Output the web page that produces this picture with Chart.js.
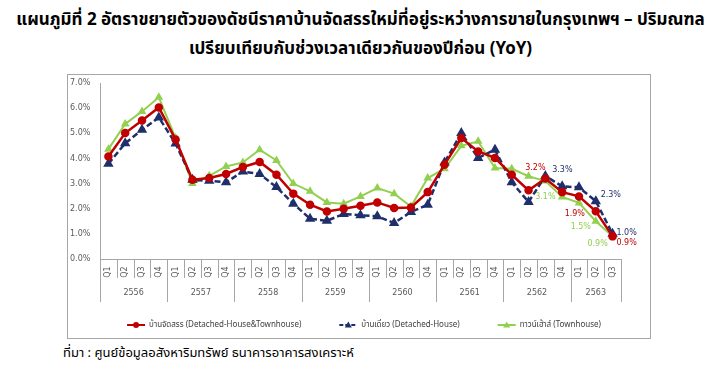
<!DOCTYPE html>
<html>
<head>
<meta charset="utf-8">
<script src="https://cdn.jsdelivr.net/npm/chart.js@4.4.0/dist/chart.umd.min.js"></script>
<style>
  body { margin: 0; background: #fff; width: 721px; height: 370px; overflow: hidden; position: relative; font-family: "Noto Sans Thai", Tahoma, "DejaVu Sans", sans-serif; }
  .title { position: absolute; left: 0; width: 721px; text-align: center; font-weight: bold; font-size: 17px; color: #000; white-space: nowrap; }
  #box { position: absolute; left: 67px; top: 74px; width: 582px; height: 263px; border: 1px solid #a6a6a6; }
  #source { position: absolute; left: 63px; top: 343px; font-size: 13px; color: #000; white-space: nowrap; }
</style>
</head>
<body>
<div class="title" style="top:7px">แผนภูมิที่ 2 อัตราขยายตัวของดัชนีราคาบ้านจัดสรรใหม่ที่อยู่ระหว่างการขายในกรุงเทพฯ – ปริมณฑล</div>
<div class="title" style="top:36px">เปรียบเทียบกับช่วงเวลาเดียวกันของปีก่อน (YoY)</div>
<div id="box"><canvas id="yoyChart" width="582" height="263"></canvas></div>
<div id="source">ที่มา : ศูนย์ข้อมูลอสังหาริมทรัพย์ ธนาคารอาคารสงเคราะห์</div>
<script>
const years = ['2556', '2557', '2558', '2559', '2560', '2561', '2562', '2563'];
const quarters = ['Q1', 'Q2', 'Q3', 'Q4'];
const seriesNames = ['บ้านจัดสรร (Detached-House&Townhouse)', 'บ้านเดี่ยว (Detached-House)', 'ทาวน์เฮ้าส์ (Townhouse)'];

// YoY growth, %
const allHouse = [4.08, 5.01, 5.51, 6.03, 4.75, 3.15, 3.22, 3.38, 3.66, 3.86, 3.35, 2.60,
  2.16, 1.89, 2.00, 2.12, 2.25, 2.03, 2.05, 2.66, 3.75, 4.81, 4.28, 4.02,
  3.35, 2.73, 3.2, 2.66, 2.49, 1.9, 0.9];
const detached = [3.79, 4.6, 5.14, 5.63, 4.59, 3.15, 3.11, 3.05, 3.48, 3.38, 2.86, 2.20,
  1.60, 1.52, 1.79, 1.74, 1.70, 1.43, 1.87, 2.16, 3.84, 5.01, 4.02, 4.35,
  3.05, 2.27, 3.3, 2.89, 2.85, 2.3, 1.0];
const townhouse = [4.37, 5.37, 5.87, 6.43, 4.81, 3.00, 3.31, 3.68, 3.84, 4.35, 3.92, 3.00,
  2.69, 2.25, 2.20, 2.49, 2.82, 2.60, 2.09, 3.22, 3.59, 4.50, 4.68, 3.62,
  3.59, 3.29, 3.1, 2.47, 2.23, 1.5, 0.9];

// which points get a value label: [dataset, index, dx, dy]
const valueLabels = [
  [0, 26, -10, -11], [1, 26, 17, -6], [2, 26, 0, 16],
  [0, 29, -21, 3], [1, 29, 15, -6], [2, 29, -15, 6],
  [0, 30, 14, 7], [1, 30, 14, -1], [2, 30, -15, 8]
];

const labels = [];
years.forEach(y => quarters.forEach(q => labels.push(q)));
labels.length = allHouse.length;

const colors = ['#c00000', '#1f2f6b', '#92d050'];
const tickFont = '8px "DejaVu Sans", sans-serif';
const legendFont = '8px "Noto Sans Thai", Tahoma, "DejaVu Sans", sans-serif';

function drawIcon(ctx, x, y, i) {
  ctx.save();
  ctx.strokeStyle = colors[i];
  ctx.fillStyle = colors[i];
  ctx.lineWidth = 2;
  if (i === 1) ctx.setLineDash([4, 2]);
  ctx.beginPath(); ctx.moveTo(x, y); ctx.lineTo(x + 18, y); ctx.stroke();
  ctx.setLineDash([]);
  ctx.beginPath();
  if (i === 0) ctx.arc(x + 9, y, 3, 0, Math.PI * 2);
  else { ctx.moveTo(x + 9, y - 3.5); ctx.lineTo(x + 12.5, y + 2.5); ctx.lineTo(x + 5.5, y + 2.5); ctx.closePath(); }
  ctx.fill();
  ctx.restore();
}

const axisDecor = {
  id: 'axisDecor',
  afterDraw(chart) {
    const ctx = chart.ctx;
    const xs = chart.scales.x;
    const bottom = chart.chartArea.bottom;
    const n = labels.length;
    const step = xs.width / n;
    ctx.save();
    ctx.strokeStyle = '#a6a6a6';
    ctx.lineWidth = 1;
    for (let i = 0; i <= n; i++) {
      const x = Math.round(xs.left + i * step) + 0.5;
      const long = i % 4 === 0 || i === n;
      ctx.beginPath();
      ctx.moveTo(x, bottom);
      ctx.lineTo(x, bottom + (long ? 43 : 19));
      ctx.stroke();
    }
    ctx.fillStyle = '#595959';
    ctx.font = tickFont;
    ctx.textAlign = 'center';
    ctx.textBaseline = 'middle';
    labels.forEach((q, i) => {
      const x = xs.getPixelForValue(i);
      ctx.save();
      ctx.translate(x, bottom + 13);
      ctx.rotate(-Math.PI / 2);
      ctx.fillText(q, 0, 0);
      ctx.restore();
    });
    years.forEach((y, k) => {
      const first = k * 4;
      const last = Math.min(first + 4, n);
      const x = xs.left + (first + last) / 2 * step;
      ctx.fillText(y, x, bottom + 34);
    });

    // legend, one row under the axis
    ctx.font = legendFont;
    ctx.textAlign = 'left';
    ctx.fillStyle = '#404040';
    const gap = 38;
    const widths = chart.data.datasets.map(ds => 22 + ctx.measureText(ds.label).width);
    const total = widths.reduce((a, b) => a + b, 0) + gap * (widths.length - 1);
    let lx = chart.width / 2 + 5 - total / 2;
    const ly = chart.height - 13;
    chart.data.datasets.forEach((ds, i) => {
      drawIcon(ctx, lx, ly, i);
      ctx.fillText(ds.label, lx + 22, ly);
      lx += widths[i] + gap;
    });
    ctx.restore();
  }
};

const pointLabels = {
  id: 'pointLabels',
  afterDatasetsDraw(chart) {
    const ctx = chart.ctx;
    ctx.save();
    ctx.font = tickFont;
    ctx.textAlign = 'center';
    ctx.textBaseline = 'middle';
    valueLabels.forEach(([d, i, dx, dy]) => {
      const pt = chart.getDatasetMeta(d).data[i];
      const v = chart.data.datasets[d].data[i];
      ctx.fillStyle = colors[d];
      ctx.fillText(v.toFixed(1) + '%', pt.x + dx, pt.y + dy);
    });
    ctx.restore();
  }
};

new Chart(document.getElementById('yoyChart'), {
  type: 'line',
  data: {
    labels: labels,
    datasets: [
      { label: seriesNames[0], data: allHouse, borderColor: colors[0], backgroundColor: colors[0],
        borderWidth: 2.5, pointStyle: 'circle', pointRadius: 3, tension: 0 },
      { label: seriesNames[1], data: detached, borderColor: colors[1], backgroundColor: colors[1],
        borderWidth: 2.5, borderDash: [6, 3], pointStyle: 'triangle', pointRadius: 3.5, tension: 0 },
      { label: seriesNames[2], data: townhouse, borderColor: colors[2], backgroundColor: colors[2],
        borderWidth: 2, pointStyle: 'triangle', pointRadius: 3, tension: 0 }
    ]
  },
  options: {
    responsive: false,
    animation: false,
    layout: { padding: { top: 8, left: 2, right: 29, bottom: 31 } },
    plugins: {
      tooltip: { enabled: false },
      legend: { display: false }
    },
    scales: {
      x: {
        offset: true,
        grid: { display: false },
        border: { color: '#a6a6a6' },
        ticks: { display: false },
        afterFit(scale) { scale.height = 48; }
      },
      y: {
        min: 0, max: 7,
        grid: { display: false },
        border: { color: '#a6a6a6' },
        ticks: {
          stepSize: 1,
          color: '#595959',
          font: { family: '"DejaVu Sans", sans-serif', size: 8 },
          crossAlign: 'far',
          callback: v => v.toFixed(1) + '%'
        },
        afterFit(scale) { scale.width = 30; }
      }
    }
  },
  plugins: [axisDecor, pointLabels]
});
</script>
</body>
</html>
